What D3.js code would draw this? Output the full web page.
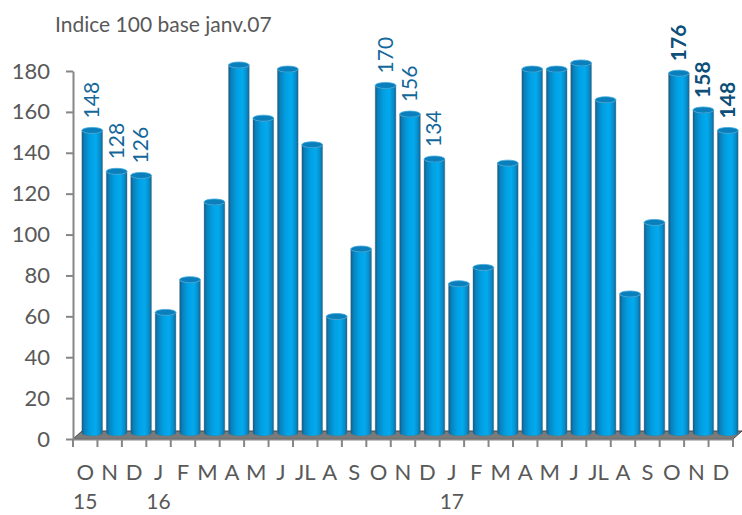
<!DOCTYPE html>
<html>
<head>
<meta charset="utf-8">
<script src="https://cdn.jsdelivr.net/npm/d3@7"></script>
<style>
    body { margin: 0; background: #fff; }
    text { font-family: Lato, "Open Sans", sans-serif; }
</style>
</head>
<body>
<div id="chart"></div>
<script>
var months = ["O","N","D","J","F","M","A","M","J","JL","A","S","O","N","D","J","F","M","A","M","J","JL","A","S","O","N","D"];
var years  = {0: "15", 3: "16", 15: "17"};
var values = [148,128,126,59,75,113,180,154,178,141,57,90,170,156,134,73,81,132,178,178,181,163,68,103,176,158,148];
var labelled = [0,1,2,12,13,14,24,25,26];   // bars with a value label
var boldLabels = [24,25,26];
var yTicks = [0,20,40,60,80,100,120,140,160,180];

var W = 742, H = 515;
var DX = 7, DY = 6;   // 3D depth offset of the bars

var svg = d3.select("#chart").append("svg")
    .attr("width", W)
    .attr("height", H);

/* Scales */
var x = d3.scaleBand()
    .domain(d3.range(values.length))
    .range([73, 733])
    .padding(0);
var y = d3.scaleLinear()
    .domain([0, 180])
    .range([439, 71]);

/* Gradient for the cylinders */
var defs = svg.append("defs");
var grad = defs.append("linearGradient")
    .attr("id", "cyl")
    .attr("x1", 0).attr("x2", 1).attr("y1", 0).attr("y2", 0);
[[0, "#0a5c8a"], [0.12, "#0a7fba"], [0.4, "#00a0e3"], [0.68, "#03aaee"], [0.88, "#088cca"], [1, "#0a6798"]]
    .forEach(function(s){ grad.append("stop").attr("offset", s[0]).attr("stop-color", s[1]); });

/* Title */
svg.append("text")
    .attr("x", 55)
    .attr("y", 32)
    .attr("fill", "#595959")
    .style("font-size", "21px")
    .text("Indice 100 base janv.07");

/* Floor */
var x0 = x.range()[0], x1 = x.range()[1], yb = y(0);
svg.append("path")
    .attr("d", "M" + x0 + "," + yb + "L" + x1 + "," + yb + "L" + (x1 + 9) + "," + (yb - 8) + "L" + (x0 + 9) + "," + (yb - 8) + "Z")
    .attr("fill", "#7a7a7a")
    .attr("stroke", "#444")
    .attr("stroke-width", 1);

/* Bars */
var bw = 20.7, rx = bw / 2, ry = 3;
var bars = svg.append("g").attr("class", "bars")
    .selectAll("g")
    .data(values)
    .enter()
    .append("g");

bars.append("path")
    .attr("d", function(d, i){
        var cx = x(i) + x.bandwidth() / 2 + DX;
        var top = y(d) - DY, bot = y(0) - DY;
        return "M" + (cx - rx) + "," + top +
            "L" + (cx - rx) + "," + bot +
            "A" + rx + "," + ry + " 0 0 0 " + (cx + rx) + "," + bot +
            "L" + (cx + rx) + "," + top +
            "A" + rx + "," + ry + " 0 0 1 " + (cx - rx) + "," + top + "Z";
    })
    .attr("fill", "url(#cyl)")
    .attr("stroke", "rgba(110,110,110,0.35)")
    .attr("stroke-width", 1);

bars.append("ellipse")
    .attr("cx", function(d, i){ return x(i) + x.bandwidth() / 2 + DX; })
    .attr("cy", function(d){ return y(d) - DY; })
    .attr("rx", rx)
    .attr("ry", ry)
    .attr("fill", "#0a7fbc")
    .attr("stroke", "#3aa8dc")
    .attr("stroke-width", 0.8);

/* Value labels */
svg.append("g").attr("class", "labels")
    .selectAll("text")
    .data(labelled)
    .enter()
    .append("text")
    .attr("transform", function(i){
        var cx = x(i) + x.bandwidth() / 2 + DX + 7;
        return "translate(" + cx + "," + (y(values[i]) - DY - 12) + ") rotate(-90)";
    })
    .attr("fill", function(i){ return boldLabels.indexOf(i) >= 0 ? "#0d4f78" : "#14679a"; })
    .style("font-size", "21px")
    .style("font-weight", function(i){ return boldLabels.indexOf(i) >= 0 ? "bold" : "normal"; })
    .text(function(i){ return values[i]; });

/* Y axis */
var yAxis = svg.append("g")
    .attr("transform", "translate(" + x0 + ",0)")
    .call(d3.axisLeft(y).tickValues(yTicks).tickSize(7).tickSizeOuter(0).tickPadding(16));
yAxis.select(".domain").attr("stroke", "#868686").attr("stroke-width", 2);
yAxis.selectAll(".tick line").attr("stroke", "#868686").attr("stroke-width", 2);
yAxis.selectAll(".tick text")
    .attr("fill", "#595959")
    .style("font-size", "22px")
    .style("font-family", "Lato, sans-serif");

/* X axis */
var xAxis = svg.append("g")
    .attr("transform", "translate(0," + yb + ")")
    .call(d3.axisBottom(x).tickFormat(function(i){ return months[i]; }).tickSize(0).tickPadding(25));
xAxis.select(".domain").attr("stroke", "#868686").attr("stroke-width", 2);
xAxis.selectAll(".tick text")
    .attr("fill", "#595959")
    .style("font-size", "22px")
    .style("font-family", "Lato, sans-serif");

// tick marks on band edges
xAxis.selectAll(".edge")
    .data(d3.range(values.length + 1))
    .enter()
    .append("line")
    .attr("x1", function(i){ return x0 + i * x.step(); })
    .attr("x2", function(i){ return x0 + i * x.step(); })
    .attr("y1", 0)
    .attr("y2", 8)
    .attr("stroke", "#868686")
    .attr("stroke-width", 2);

// year labels
xAxis.selectAll(".year")
    .data(Object.keys(years))
    .enter()
    .append("text")
    .attr("x", function(k){ return x(+k) + x.bandwidth() / 2; })
    .attr("y", 70)
    .attr("text-anchor", "middle")
    .attr("fill", "#595959")
    .style("font-size", "21px")
    .text(function(k){ return years[k]; });
</script>
</body>
</html>
